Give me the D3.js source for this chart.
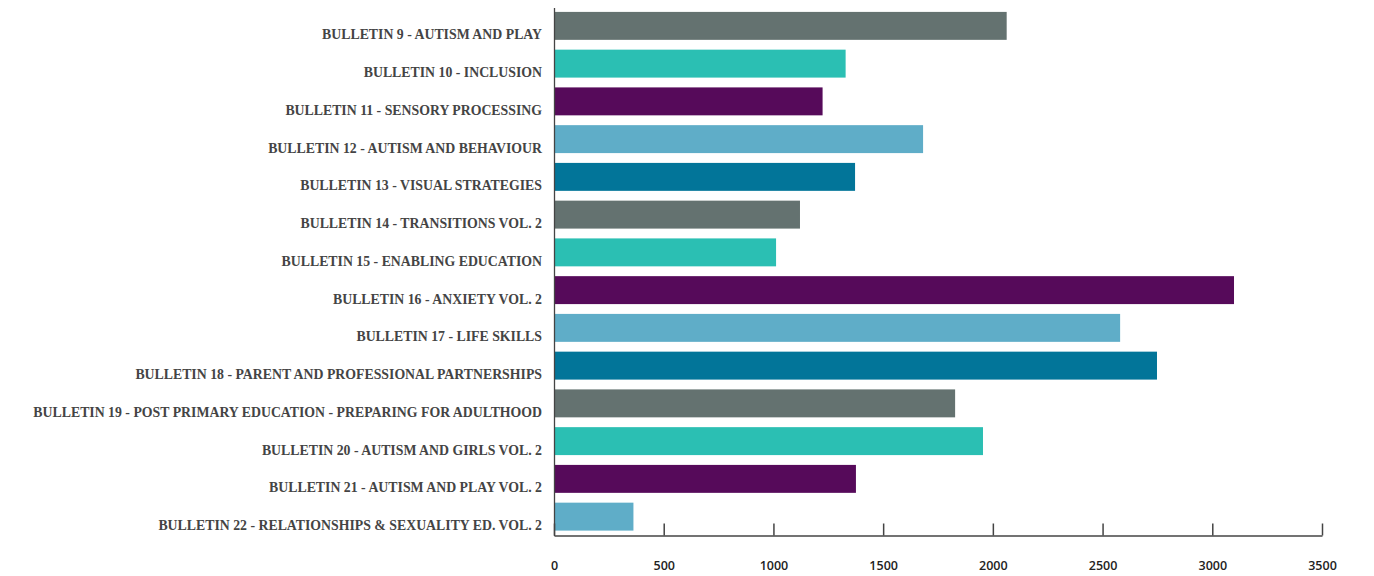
<!DOCTYPE html>
<html><head><meta charset="utf-8">
<script src="https://cdn.jsdelivr.net/npm/d3@7"></script>
<style>
body{margin:0;background:#fff;}
svg{display:block;}
</style></head>
<body><svg id="c" width="1374" height="576"></svg>
<script>
const categories = [
  "BULLETIN 9 - AUTISM AND PLAY",
  "BULLETIN 10 - INCLUSION",
  "BULLETIN 11 - SENSORY PROCESSING",
  "BULLETIN 12 - AUTISM AND BEHAVIOUR",
  "BULLETIN 13 - VISUAL STRATEGIES",
  "BULLETIN 14 - TRANSITIONS VOL. 2",
  "BULLETIN 15 - ENABLING EDUCATION",
  "BULLETIN 16 - ANXIETY VOL. 2",
  "BULLETIN 17 - LIFE SKILLS",
  "BULLETIN 18 - PARENT AND PROFESSIONAL PARTNERSHIPS",
  "BULLETIN 19 - POST PRIMARY EDUCATION - PREPARING FOR ADULTHOOD",
  "BULLETIN 20 - AUTISM AND GIRLS VOL. 2",
  "BULLETIN 21 - AUTISM AND PLAY VOL. 2",
  "BULLETIN 22 - RELATIONSHIPS & SEXUALITY ED. VOL. 2"
];
const values = [2063, 1329, 1224, 1682, 1372, 1121, 1012, 3099, 2580, 2748, 1828, 1955, 1376, 362];
const colors = ["#647270", "#2bbfb3", "#560a5a", "#5fadc8", "#027599"];
const tickValues = [0, 500, 1000, 1500, 2000, 2500, 3000, 3500];

const svg = d3.select("#c");
const x = d3.scaleLinear().domain([0, 3500]).range([554, 1322]);
const y = d3.scaleBand().domain(categories).range([7, 535.5]).paddingInner(0.26).paddingOuter(0.13);

svg.append("g").selectAll("rect").data(values).join("rect")
  .attr("x", x(0))
  .attr("y", (d, i) => y(categories[i]))
  .attr("width", d => x(d) - x(0))
  .attr("height", y.bandwidth())
  .attr("fill", (d, i) => colors[i % colors.length]);

// category labels
svg.append("g").selectAll("text").data(categories).join("text")
  .attr("x", 542)
  .attr("y", d => y(d) + y.bandwidth() - 0.5)
  .attr("text-anchor", "end")
  .attr("font-family", "'Liberation Serif', serif")
  .attr("font-weight", "bold")
  .attr("font-size", "13.8px")
  .attr("fill", "#444")
  .text(d => d);

// y axis line
svg.append("line").attr("x1", 554.5).attr("x2", 554.5).attr("y1", 8).attr("y2", 536)
  .attr("stroke", "#444").attr("stroke-width", 1.3);

// x axis
const xAxis = d3.axisBottom(x).tickValues(tickValues).tickFormat(d3.format("d"))
  .tickSize(-12).tickSizeOuter(0).tickPadding(0);
const gx = svg.append("g").attr("transform", "translate(0,535.5)").call(xAxis);
gx.select(".domain").attr("stroke", "#444").attr("stroke-width", 1.5);
gx.selectAll(".tick line").attr("stroke", "#444").attr("stroke-width", 1.5);
gx.selectAll(".tick text").attr("y", 26)
  .attr("font-family", "'Open Sans', sans-serif").attr("font-weight", 600)
  .attr("font-size", "12.5px").attr("fill", "#222");
</script></body></html>
